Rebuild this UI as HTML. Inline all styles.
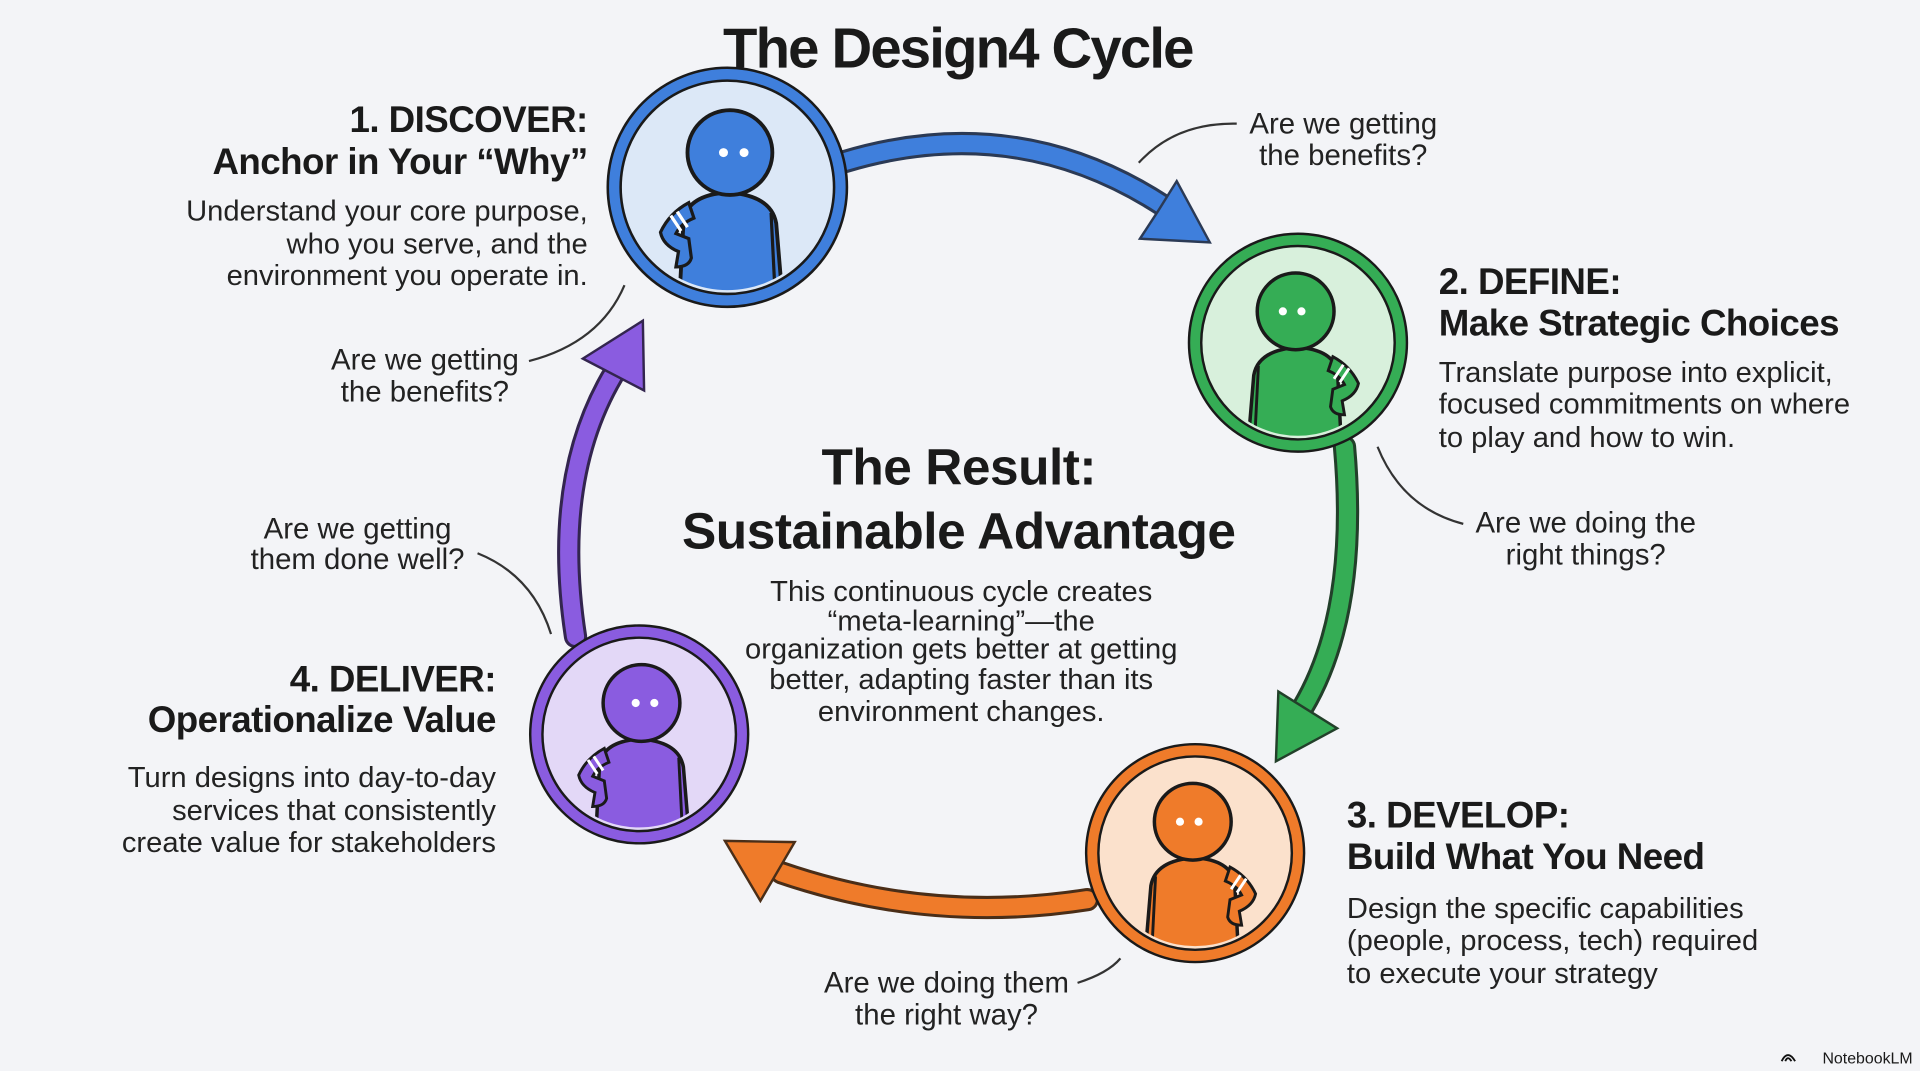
<!DOCTYPE html>
<html><head><meta charset="utf-8"><style>
html,body{margin:0;padding:0;background:#f3f4f7;}
svg{display:block}
text{font-family:"Liberation Sans",sans-serif;fill:#1a1a1a}
.h{font-weight:bold;font-size:30px;letter-spacing:-0.45px}
.b{font-size:23.8px;fill:#222}
.q{font-size:24px;fill:#222}
</style></head><body>
<svg width="1920" height="1071" viewBox="0 0 1568 875" preserveAspectRatio="none" xmlns="http://www.w3.org/2000/svg">
<defs>
<clipPath id="c"><circle cx="0" cy="0" r="80"/></clipPath>
<g id="fig">
<g clip-path="url(#c)">
<path d="M-38,100 L-34,25 Q-30,6 0,4 Q34,6 38,28 L44,100 Z" fill="currentColor" stroke="#1a1a1a" stroke-width="3"/>
<path d="M34,20 L38,100" stroke="#1a1a1a" stroke-width="2.5" fill="none"/>
<path d="M-30,12 Q-45,20 -52,35 Q-50,45 -38,50 L-40,62 Q-30,62 -28,55 L-30,40 L-40,36 Q-36,28 -26,24 Z" fill="currentColor" stroke="#1a1a1a" stroke-width="2.5"/>
<path d="M-44,22 L-36,34 M-39,19 L-31,31" stroke="#fff" stroke-width="2.5"/>
</g>
<circle cx="2" cy="-27" r="33" fill="currentColor" stroke="#1a1a1a" stroke-width="3"/>
<circle cx="-3" cy="-27" r="3.5" fill="#fff"/><circle cx="13" cy="-27" r="3.5" fill="#fff"/>
</g>
</defs>
<rect width="1568" height="875" fill="#f3f4f7"/>

<g fill="none" stroke-linecap="round">
<path d="M690,132 Q830,90 950,168" stroke="#2b3a55" stroke-width="19"/>
<path d="M690,132 Q830,90 950,168" stroke="#3f7fdc" stroke-width="14"/>
<path d="M1098,365 Q1110,500 1064,578" stroke="#22402a" stroke-width="19"/>
<path d="M1098,365 Q1110,500 1064,578" stroke="#35ad55" stroke-width="14"/>
<path d="M888,735 Q760,755 638,713" stroke="#4a2e18" stroke-width="19"/>
<path d="M888,735 Q760,755 638,713" stroke="#ef7b2a" stroke-width="14"/>
<path d="M470,520 Q450,390 502,304" stroke="#33254f" stroke-width="19"/>
<path d="M470,520 Q450,390 502,304" stroke="#8a5ce0" stroke-width="14"/>
</g>
<polygon points="988,198 931,195 946,172 961,148" fill="#3f7fdc" stroke="#2b3a55" stroke-width="2"/>
<polygon points="1042,622 1092,595 1044,565" fill="#35ad55" stroke="#22402a" stroke-width="2"/>
<polygon points="592,687 649,688 621,736" fill="#ef7b2a" stroke="#4a2e18" stroke-width="2"/>
<polygon points="525,262 526,319 476,293" fill="#8a5ce0" stroke="#33254f" stroke-width="2"/>

<g transform="translate(594,153) scale(1.05)">
<circle r="88" fill="#dce8f7" stroke="#3f7fdc" stroke-width="10"/><circle r="93" fill="none" stroke="#1a1a1a" stroke-width="2"/><circle r="83" fill="none" stroke="#1a1a1a" stroke-width="2"/>
<use href="#fig" style="color:#3f7fdc"/></g>
<g transform="translate(1060,280)">
<circle r="84" fill="#d8f0dc" stroke="#35ad55" stroke-width="10"/><circle r="89" fill="none" stroke="#1a1a1a" stroke-width="2"/><circle r="79" fill="none" stroke="#1a1a1a" stroke-width="2"/>
<g transform="scale(-0.95,0.95)"><use href="#fig" style="color:#35ad55"/></g></g>
<g transform="translate(976,697)">
<circle r="84" fill="#fbe1cc" stroke="#ef7b2a" stroke-width="10"/><circle r="89" fill="none" stroke="#1a1a1a" stroke-width="2"/><circle r="79" fill="none" stroke="#1a1a1a" stroke-width="2"/>
<g transform="scale(-0.95,0.95)"><use href="#fig" style="color:#ef7b2a"/></g></g>
<g transform="translate(522,600)">
<circle r="84" fill="#e3d8f7" stroke="#8a5ce0" stroke-width="10"/><circle r="89" fill="none" stroke="#1a1a1a" stroke-width="2"/><circle r="79" fill="none" stroke="#1a1a1a" stroke-width="2"/>
<g transform="scale(0.95)"><use href="#fig" style="color:#8a5ce0"/></g></g>

<g fill="none" stroke="#333" stroke-width="1.8">
<path d="M1010,101 Q960,100 930,133"/>
<path d="M432,295 Q490,280 510,233"/>
<path d="M390,452 Q435,470 450,518"/>
<path d="M1195,428 Q1145,415 1125,365"/>
<path d="M880,803 Q905,795 915,783"/>
</g>

<text x="783" y="55" text-anchor="middle" font-weight="bold" font-size="46" textLength="385">The Design4 Cycle</text>

<text class="h" x="480" y="108" text-anchor="end">1. DISCOVER:</text>
<text class="h" x="480" y="142" text-anchor="end">Anchor in Your “Why”</text>
<text class="b" x="480" y="180" text-anchor="end">Understand your core purpose,</text>
<text class="b" x="480" y="207" text-anchor="end">who you serve, and the</text>
<text class="b" x="480" y="233" text-anchor="end">environment you operate in.</text>

<text class="h" x="1175" y="240">2. DEFINE:</text>
<text class="h" x="1175" y="274">Make Strategic Choices</text>
<text class="b" x="1175" y="312">Translate purpose into explicit,</text>
<text class="b" x="1175" y="338">focused commitments on where</text>
<text class="b" x="1175" y="365">to play and how to win.</text>

<text class="h" x="1100" y="676">3. DEVELOP:</text>
<text class="h" x="1100" y="710">Build What You Need</text>
<text class="b" x="1100" y="750">Design the specific capabilities</text>
<text class="b" x="1100" y="776">(people, process, tech) required</text>
<text class="b" x="1100" y="803">to execute your strategy</text>

<text class="h" x="405" y="565" text-anchor="end">4. DELIVER:</text>
<text class="h" x="405" y="598" text-anchor="end">Operationalize Value</text>
<text class="b" x="405" y="643" text-anchor="end">Turn designs into day-to-day</text>
<text class="b" x="405" y="670" text-anchor="end">services that consistently</text>
<text class="b" x="405" y="696" text-anchor="end">create value for stakeholders</text>

<text x="783" y="396" text-anchor="middle" font-weight="bold" font-size="42" letter-spacing="-0.4">The Result:</text>
<text x="783" y="448" text-anchor="middle" font-weight="bold" font-size="42" letter-spacing="-0.4">Sustainable Advantage</text>
<text class="b" x="785" y="491" text-anchor="middle" font-size="24">This continuous cycle creates</text>
<text class="b" x="785" y="515" text-anchor="middle">“meta-learning”—the</text>
<text class="b" x="785" y="538" text-anchor="middle">organization gets better at getting</text>
<text class="b" x="785" y="563" text-anchor="middle">better, adapting faster than its</text>
<text class="b" x="785" y="589" text-anchor="middle">environment changes.</text>

<text class="q" x="1097" y="109" text-anchor="middle">Are we getting</text>
<text class="q" x="1097" y="135" text-anchor="middle">the benefits?</text>
<text class="q" x="347" y="302" text-anchor="middle">Are we getting</text>
<text class="q" x="347" y="328" text-anchor="middle">the benefits?</text>
<text class="q" x="292" y="440" text-anchor="middle">Are we getting</text>
<text class="q" x="292" y="465" text-anchor="middle">them done well?</text>
<text class="q" x="1295" y="435" text-anchor="middle">Are we doing the</text>
<text class="q" x="1295" y="461" text-anchor="middle">right things?</text>
<text class="q" x="773" y="811" text-anchor="middle">Are we doing them</text>
<text class="q" x="773" y="837" text-anchor="middle">the right way?</text>

<path d="M1455,867 Q1460,857 1466,867 M1458,867 Q1460,862 1463,867" stroke="#111" stroke-width="1.5" fill="none"/>
<text x="1562" y="869" text-anchor="end" font-size="13">NotebookLM</text>
</svg>
</body></html>
